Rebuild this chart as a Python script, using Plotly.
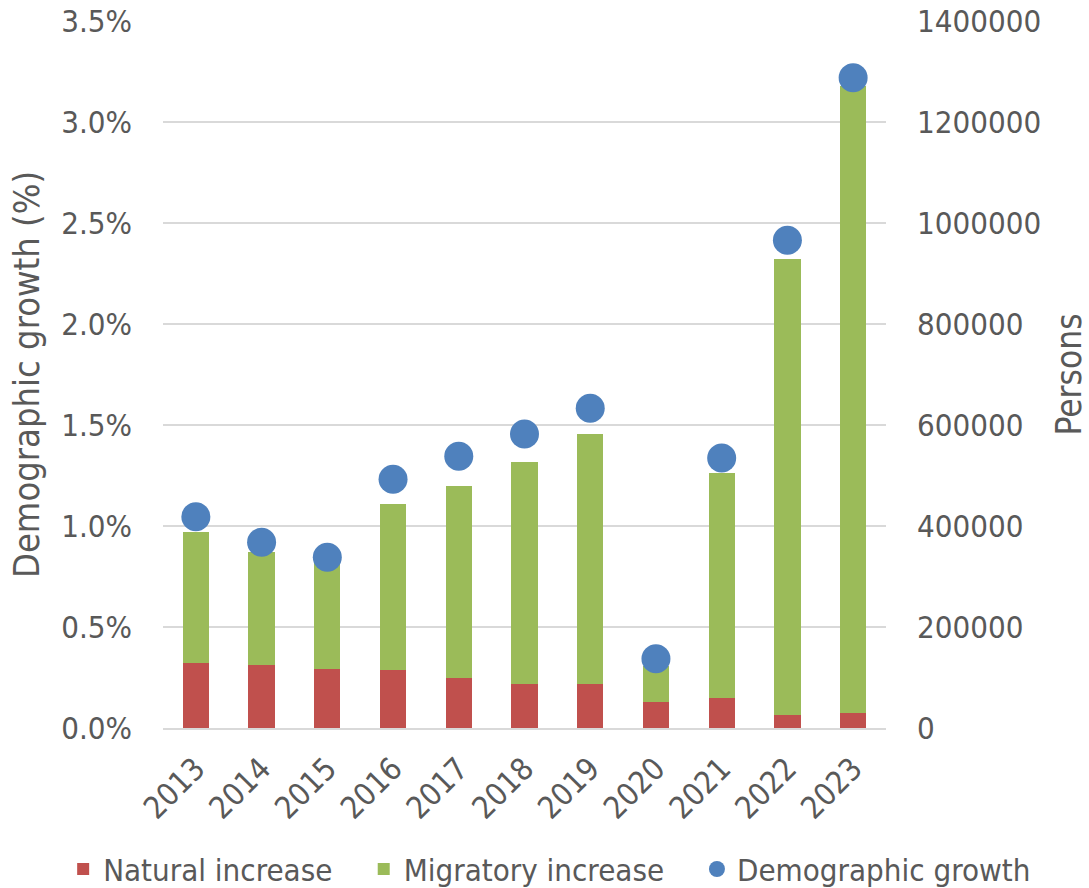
import plotly.graph_objects as go

# Population change by year
years = ["2013", "2014", "2015", "2016", "2017", "2018", "2019", "2020", "2021", "2022", "2023"]
natural_increase = [128000, 125400, 117400, 115500, 99000, 87700, 87700, 51500, 58800, 25300, 28900]
migratory_increase = [260700, 222500, 209300, 328700, 380800, 439000, 495100, 71300, 446000, 904200, 1242400]
growth_pct = [1.046, 0.919, 0.845, 1.231, 1.345, 1.455, 1.583, 0.343, 1.337, 2.414, 3.219]

persons_ticks = [0, 200000, 400000, 600000, 800000, 1000000, 1200000, 1400000]
pct_ticks = [0.0, 0.5, 1.0, 1.5, 2.0, 2.5, 3.0, 3.5]

RED = "#C0504D"
GREEN = "#9BBB59"
BLUE = "#4F81BD"
TEXT = "#595959"
GRID = "#D9D9D9"
FONT = "DejaVu Sans Condensed"
TICK_SIZE = 31

fig = go.Figure()

fig.add_trace(go.Bar(
    x=years, y=natural_increase, name="Natural increase",
    marker=dict(color=RED, line=dict(width=0)), yaxis="y", legend="legend",
))
fig.add_trace(go.Bar(
    x=years, y=migratory_increase, name="Migratory increase",
    marker=dict(color=GREEN, line=dict(width=0)), yaxis="y", legend="legend2",
))
fig.add_trace(go.Scatter(
    x=years, y=growth_pct, name="Demographic growth", mode="markers",
    marker=dict(color=BLUE, size=29, line=dict(width=0)), yaxis="y2", legend="legend3",
))


def legend_box(x):
    # one single-entry legend per series, laid out in a row under the axis
    return dict(
        orientation="h", xref="container", yref="container",
        x=x, xanchor="left", y=0.021, yanchor="middle",
        bgcolor="rgba(0,0,0,0)", font=dict(size=31, color=TEXT),
        itemwidth=30,
    )


fig.update_layout(
    width=1089, height=888,
    margin=dict(l=163, r=203, t=21, b=160, autoexpand=False),
    paper_bgcolor="white", plot_bgcolor="white",
    barmode="stack", bargap=0.6,
    font=dict(family=FONT, color=TEXT, size=TICK_SIZE),
    showlegend=True,
    legend=legend_box(0.058),
    legend2=legend_box(0.334),
    legend3=legend_box(0.640),
    xaxis=dict(
        type="category", range=[-0.5, 10.5], tickangle=-45, showgrid=False,
        showline=True, linecolor=GRID, linewidth=2,
        ticks="", ticklabelstandoff=8, tickfont=dict(size=TICK_SIZE, color=TEXT),
    ),
    yaxis=dict(
        side="right", range=[0, 1400000], tickvals=persons_ticks,
        tickformat="d", showgrid=True, gridcolor=GRID, gridwidth=2,
        zeroline=False, ticks="", ticklabelstandoff=30,
        tickfont=dict(size=TICK_SIZE, color=TEXT),
        title=dict(text="Persons", font=dict(size=35, color=TEXT), standoff=18),
    ),
    yaxis2=dict(
        overlaying="y", side="left", range=[0, 3.5], tickvals=pct_ticks,
        ticktext=[f"{v:.1f}%" for v in pct_ticks],
        showgrid=False, zeroline=False, ticks="", ticklabelstandoff=30,
        tickfont=dict(size=TICK_SIZE, color=TEXT),
        title=dict(text="Demographic growth (%)", font=dict(size=36, color=TEXT), standoff=10),
    ),
)

fig.write_html("out.html")
